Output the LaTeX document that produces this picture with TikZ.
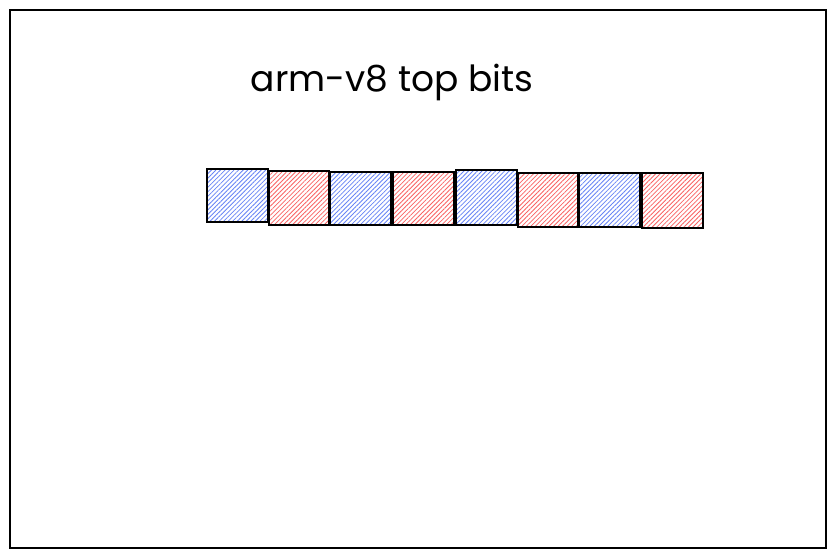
\documentclass[tikz,border=0pt]{standalone}
\usepackage{fontspec}
\setmainfont{Poppins}
\usetikzlibrary{patterns.meta}
\definecolor{hblue}{HTML}{4C6EF5}
\definecolor{hred}{HTML}{FA5252}
\tikzset{
  frame/.style={draw=black, line width=1.4pt},
  bitbox/.style={draw=black, line width=1.5pt},
  bluebit/.style={bitbox, pattern={Lines[angle=45, distance=3.2pt, line width=0.8pt]}, pattern color=hblue!85},
  redbit/.style={bitbox, pattern={Lines[angle=45, distance=3.2pt, line width=0.8pt]}, pattern color=hred!90},
  title/.style={font=\fontsize{36}{40}\selectfont, text=black}
}
\begin{document}
\begin{tikzpicture}[x=1pt,y=-1pt]
\useasboundingbox (0,0) rectangle (836,558);
\fill[white] (0,0) rectangle (836,558);
\draw[frame] (10,10) rectangle (826,548);
\node[title] (t) at (392,82) {arm-v8 top bits};
\draw[bluebit] (207,169) rectangle (268,222);
\draw[redbit]  (269,171) rectangle (329,225);
\draw[bluebit] (330,172) rectangle (391,225);
\draw[redbit]  (393,172) rectangle (454,225);
\draw[bluebit] (456,170) rectangle (517,225);
\draw[redbit]  (518,173) rectangle (578,227);
\draw[bluebit] (579,173) rectangle (640,227);
\draw[redbit]  (642,173) rectangle (703,228);
\end{tikzpicture}
\end{document}
